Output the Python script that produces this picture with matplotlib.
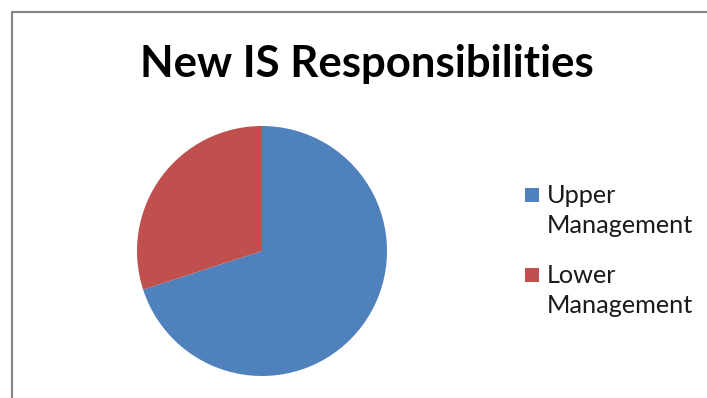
import matplotlib
matplotlib.use("Agg")
from matplotlib import pyplot as plt
from matplotlib.patches import Rectangle

# share of new IS responsibilities
labels = ["Upper\nManagement", "Lower\nManagement"]
shares = [70, 30]
colors = ["#4F81BD", "#C0504D"]

W, H = 707, 398
fig = plt.figure(figsize=(W / 100, H / 100), dpi=100)
fig.patch.set_facecolor("white")

# chart frame, clipped by the image on the right and bottom
fig.patches.append(Rectangle((12 / W, -0.1), 1.2, 1 - 12 / H + 0.1,
                             transform=fig.transFigure, fill=False,
                             edgecolor="#868686", linewidth=1.6))

fig.text(367 / W, 1 - 64 / H, "New IS Responsibilities", ha="center",
         va="center", fontsize=31.5, fontweight="bold", family="Lato")

r = 125
ax = fig.add_axes([(262 - r) / W, (H - 251 - r) / H, 2 * r / W, 2 * r / H])
wedges, _ = ax.pie(shares, colors=colors, startangle=90, counterclock=False,
                   wedgeprops={"linewidth": 0})
ax.set_xlim(-1, 1)
ax.set_ylim(-1, 1)
ax.set_aspect("equal")

# legend drawn by hand: a square key and two text lines per entry
entry_top = [203, 283]   # baseline of the first text line, px from top
line_gap = 30
for wedge, label, base in zip(wedges, labels, entry_top):
    fig.patches.append(Rectangle((525 / W, 1 - (base - 1) / H), 14 / W, 14 / H,
                                 transform=fig.transFigure,
                                 facecolor=wedge.get_facecolor(),
                                 edgecolor="none"))
    for i, line in enumerate(label.split("\n")):
        fig.text(547 / W, 1 - (base + i * line_gap) / H, line, ha="left",
                 va="baseline", fontsize=18.2, family="Lato",
                 color="#1a1a1a")

fig.savefig("out.png", dpi=100)
